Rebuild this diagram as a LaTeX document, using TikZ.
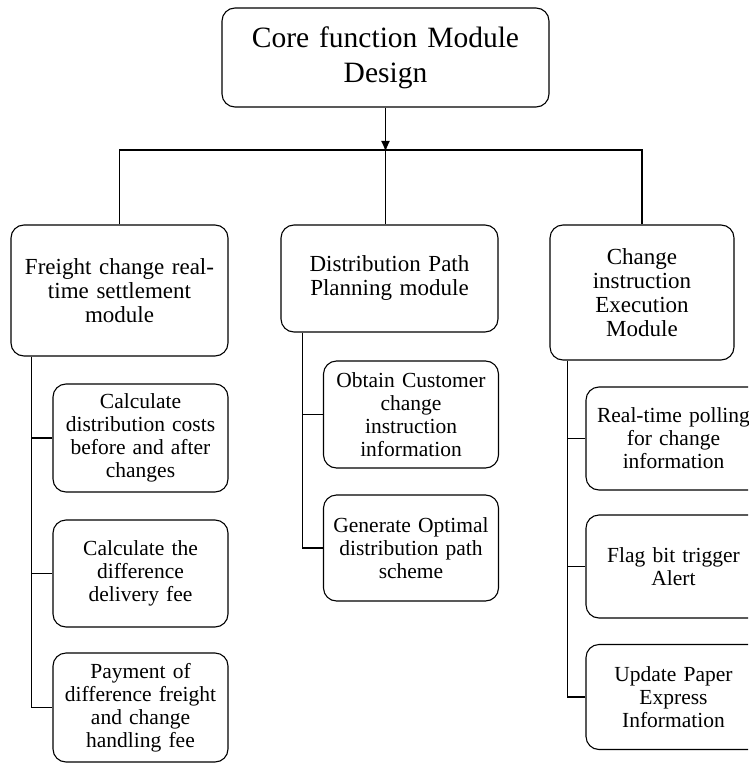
\documentclass[tikz,border=0pt]{standalone}
\usepackage{fontspec}
\setmainfont{Liberation Serif}
\usetikzlibrary{positioning}
\usetikzlibrary{arrows.meta}
\tikzset{
  % every box of the chart: rounded frame, centred lines
  modbox/.style={draw,line width=1.1pt,rounded corners=13pt,align=center,
    inner sep=2pt,text width=#1},
  modbox/.default=160pt,
  topbox/.style={modbox=310pt,font=\fontsize{29.5}{35}\selectfont},
  mainbox/.style={modbox=200pt,font=\fontsize{23}{24}\selectfont},
  subbox/.style={modbox=170pt,font=\fontsize{21.5}{23}\selectfont,
    minimum width=175pt},
  % tree lines
  link/.style={line width=1.1pt},
}
\begin{document}
\begin{tikzpicture}[x=1pt,y=-1pt]
  \useasboundingbox (0,0) rectangle (748,767);
  \clip (0,0) rectangle (748,767);
  % top of the chart
  \node[topbox,minimum width=327pt,minimum height=99pt] (core) at (385.5,57.5)
    {Core function Module\\Design};
  % the three modules
  \node[mainbox,minimum width=217pt,minimum height=131pt] (fr) at (119.5,290.5)
    {Freight change real-\\time settlement\\module};
  \node[mainbox,minimum width=217pt,minimum height=107pt] (dp) at (389.5,278.5)
    {Distribution Path\\Planning module};
  \node[mainbox,text width=175pt,minimum width=184pt,minimum height=135pt] (ce) at (642,292.5)
    {Change\\instruction\\Execution\\Module};
  % freight settlement
  \node[subbox,minimum height=108pt] (fc1) at (140.5,438)
    {Calculate\\distribution costs\\before and after\\changes};
  \node[subbox,minimum height=107pt] (fc2) at (140.5,573.5)
    {Calculate the\\difference\\delivery fee};
  \node[subbox,minimum height=109pt] (fc3) at (140.5,707.5)
    {Payment of\\difference freight\\and change\\handling fee};
  % path planning
  \node[subbox,minimum height=107pt] (dp1) at (411,414.5)
    {Obtain Customer\\change\\instruction\\information};
  \node[subbox,minimum height=106pt] (dp2) at (411,548)
    {Generate Optimal\\distribution path\\scheme};
  % instruction execution
  \node[subbox,minimum height=103pt] (ce1) at (673.5,438.5)
    {Real-time polling\\for change\\information};
  \node[subbox,minimum height=103pt] (ce2) at (673.5,566.5)
    {Flag bit trigger\\Alert};
  \node[subbox,minimum height=105pt] (ce3) at (673.5,697)
    {Update Paper\\Express\\Information};

  \coordinate (bus) at (385.5,150);
  \draw[line width=1.8pt,-{Latex[length=11pt,width=9pt]}] (core.south -| bus) -- ([yshift=-2pt]bus);
  \draw[link] (fr.north) |- (bus) -| (ce.north);
  \draw[link] (bus) -- (bus |- dp.north);

  \coordinate (ftrunk) at ([xshift=21pt]fr.south west);
  \coordinate (dtrunk) at ([xshift=22pt]dp.south west);
  \coordinate (ctrunk) at ([xshift=18pt]ce.south west);
  \draw[link] (ftrunk) |- (fc3.west);
  \draw[link] (dtrunk) |- (dp2.west);
  \draw[link] (ctrunk) |- (ce3.west);
  \foreach \n in {fc1,fc2} \draw[link] (\n.west) -- (\n.west -| ftrunk);
  \draw[link] (dp1.west) -- (dp1.west -| dtrunk);
  \foreach \n in {ce1,ce2} \draw[link] (\n.west) -- (\n.west -| ctrunk);
\end{tikzpicture}
\end{document}
